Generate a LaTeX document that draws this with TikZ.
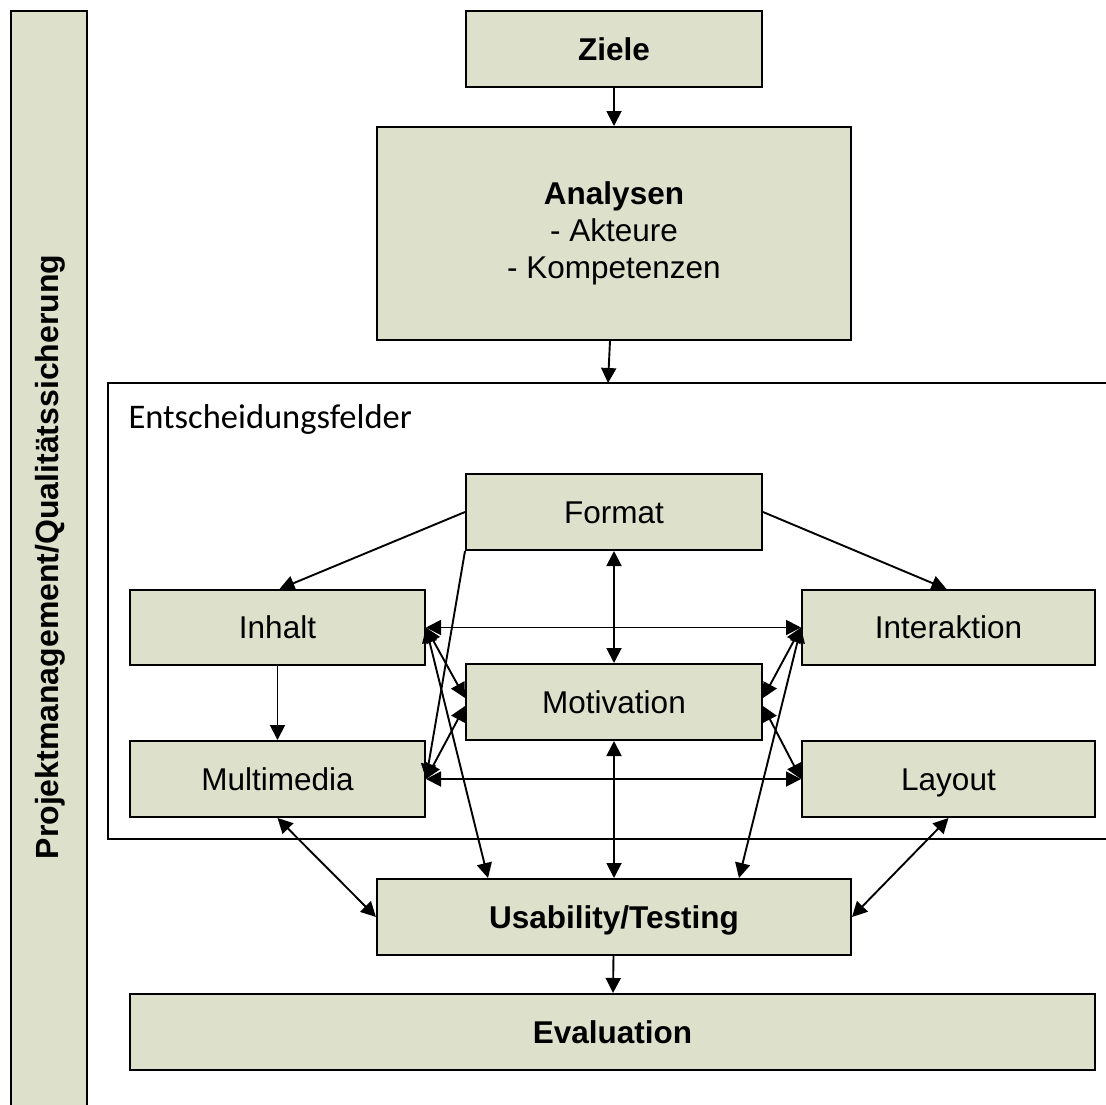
\documentclass[tikz,border=0pt]{standalone}
\usepackage{fontspec}
\setmainfont{Liberation Sans}
\newfontfamily\calibrifont{Carlito}
\usetikzlibrary{arrows.meta,calc}
\definecolor{boxfill}{RGB}{221,224,203}
\tikzset{
  boxbase/.style={draw=black, line width=2pt, fill=boxfill, inner sep=0pt,
    align=center, font=\fontsize{31.5}{37}\selectfont},
  box/.style={boxbase, text height=22.6pt, text depth=0pt},
  tip/.tip={Triangle[length=15pt,width=15pt]},
  lnk/.style={line width=1.9pt, -tip},
  both/.style={line width=1.9pt, tip-tip},
}
\begin{document}
\begin{tikzpicture}[x=1pt,y=-1pt]
\useasboundingbox (0,0) rectangle (1106,1104);
\clip (0,0) rectangle (1106,1104);

% side bar for project management / quality assurance
\node[boxbase, minimum width=76pt, minimum height=1110pt] (side) at (49,566) {};
\node[rotate=90, font=\fontsize{32}{37}\selectfont\bfseries] (sidetext) at (50,557)
  {Projektmanagement/Qualitätssicherung};

% frame of the decision fields (runs past the right edge)
\node[draw=black, line width=2pt, minimum width=1020pt, minimum height=456pt,
  inner sep=0pt] (felder) at (618,611) {};
\node[anchor=base west, font=\calibrifont\fontsize{34.5}{40}\selectfont] (feldertext)
  at (125,428) {Entscheidungsfelder};
\coordinate (fin) at (608,383);

% boxes
\node[box, minimum width=296pt, minimum height=76pt, font=\fontsize{31.5}{37}\selectfont\bfseries]
  (ziele) at (614,49) {Ziele};
\node[boxbase, minimum width=474pt, minimum height=213pt] (analysen) at (614,233.5)
  {\textbf{Analysen}\\- Akteure\\- Kompetenzen};
\node[box, minimum width=296pt, minimum height=76pt] (format) at (614,512) {Format};
\node[box, minimum width=295pt, minimum height=75pt] (inhalt) at (277.5,627.5) {Inhalt};
\node[box, minimum width=293pt, minimum height=75pt] (interaktion) at (948.5,627.5) {Interaktion};
\node[box, minimum width=296pt, minimum height=76pt] (motivation) at (614,702) {Motivation};
\node[box, minimum width=295pt, minimum height=76pt] (multimedia) at (277.5,779) {Multimedia};
\node[box, minimum width=293pt, minimum height=76pt] (layout) at (948.5,779) {Layout};
\node[box, minimum width=474pt, minimum height=76pt, font=\fontsize{31.5}{37}\selectfont\bfseries]
  (usab) at (614,917) {Usability/Testing};
\node[box, minimum width=965pt, minimum height=76pt, font=\fontsize{31.5}{37}\selectfont\bfseries]
  (evaluation) at (612.5,1032) {Evaluation};

% connectors
\draw[lnk] (ziele) -- (analysen);
\draw[lnk] ([xshift=-4pt]analysen.south) -- (fin);
\draw[lnk] (format.west) -- ([xshift=2pt]inhalt.north);
\draw[lnk] (format.east) -- ([xshift=-2pt]interaktion.north);
\draw[lnk] (format.south west) -- (multimedia.east);
\draw[both] (format.south) -- (motivation.north);
\draw[lnk] (inhalt.south) -- (multimedia.north);
\draw[both] (inhalt.east) -- (interaktion.west);
\draw[both] (inhalt.east) -- ([yshift=4pt]motivation.west);
\draw[both] (inhalt.east) -- ([xshift=-126pt]usab.north);
\draw[both] (multimedia.east) -- ([yshift=-4pt]motivation.west);
\draw[both] (multimedia.east) -- (layout.west);
\draw[both] (interaktion.west) -- ([yshift=4pt]motivation.east);
\draw[both] (interaktion.west) -- ([xshift=125pt]usab.north);
\draw[both] (layout.west) -- ([yshift=-4pt]motivation.east);
\draw[both] (motivation.south) -- (usab.north);
\draw[both] (multimedia.south) -- (usab.west);
\draw[both] (layout.south) -- (usab.east);
\draw[lnk] (usab) -- (evaluation);
\end{tikzpicture}
\end{document}
